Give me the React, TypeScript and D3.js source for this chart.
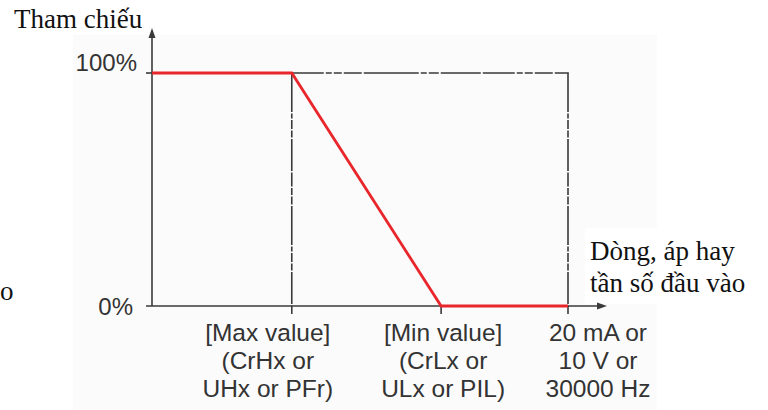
import React from "react";
import * as d3 from "d3";

// ---- data ----
const inputPct = [0, 33.6, 69.5, 100]; // input position, % of full scale
const referencePct = [100, 100, 0, 0]; // reference output, %
const yTickValues = [100, 0];
const yTickLabels = ["100%", "0%"];
const xTickValues = [33.6, 69.5, 100];
const xTickLabels = [
  ["[Max value]", "(CrHx or", "UHx or PFr)"],
  ["[Min value]", "(CrLx or", "ULx or PIL)"],
  ["20 mA or", "10 V or", "30000 Hz"],
];
const yAxisTitle = "Tham chiếu";
const xAxisTitle = ["Dòng, áp hay", "tần số đầu vào"];
const leftFragment = "o";

const W = 768;
const H = 410;

export default function App() {
  const x = d3.scaleLinear().domain([0, 100]).range([152, 568]);
  const y = d3.scaleLinear().domain([0, 100]).range([306, 73]);
  const axisColor = "#3a3a3a";
  const red = "#e8262b";
  const sans = "'Liberation Sans', Arial, sans-serif";
  const serif = "'Liberation Serif', 'Times New Roman', serif";
  const line = d3
    .line<number>()
    .x((_, i) => x(inputPct[i]))
    .y((d) => y(d));
  const vDash = "39 1.5 5 1.5 9 1.5 7 1.5 32 1.5 14 1.5 7 1.5 8 1.5";
  const hDash = "32 2 6 2 8 2 18 2 55 2 6 2 10 2 40 2";
  const labelOffsets = [-24, 2, 30];
  const rowY = [341, 369, 397];
  const x0 = x(0);
  const y0 = y(0);
  const y100 = y(100);
  const xMax = x(inputPct[1]);
  const xEnd = x(100);

  return (
    <svg
      width={W}
      height={H}
      style={{ position: "absolute", left: 0, top: 0, background: "#fff" }}
    >
      <rect x={73} y={35} width={584} height={H - 35} fill="#fbfbfb" />
      <rect x={585} y={228} width={183} height={76} fill="#fff" />

      {/* dashed guides */}
      <line x1={xMax} x2={xMax} y1={y100} y2={y0} stroke={axisColor} strokeWidth={1.6} strokeDasharray={vDash} />
      <line x1={xEnd} x2={xEnd} y1={y100} y2={y0} stroke={axisColor} strokeWidth={1.6} strokeDasharray={vDash} />
      <line x1={xMax} x2={xEnd + 0.8} y1={y100} y2={y100} stroke={axisColor} strokeWidth={1.6} strokeDasharray={hDash} />

      {/* axes */}
      <line x1={x0} x2={x0} y1={y0} y2={36} stroke={axisColor} strokeWidth={1.6} />
      <path d={`M${x0},28 L${x0 - 3.5},38 L${x0 + 3.5},38 Z`} fill={axisColor} />
      <line x1={146} x2={598} y1={y0} y2={y0} stroke={axisColor} strokeWidth={1.6} />
      <path d={`M607,${y0} L597,${y0 - 3.5} L597,${y0 + 3.5} Z`} fill={axisColor} />
      <line x1={146} x2={x0} y1={y100} y2={y100} stroke={axisColor} strokeWidth={1.6} />
      {xTickValues.map((v, i) => (
        <line key={i} x1={x(v)} x2={x(v)} y1={y0} y2={y0 + 8} stroke={axisColor} strokeWidth={1.6} />
      ))}

      {/* reference curve */}
      <path d={line(referencePct) || ""} fill="none" stroke={red} strokeWidth={2.8} strokeLinejoin="miter" />

      {/* y tick labels */}
      {yTickValues.map((v, i) => (
        <text
          key={i}
          x={v === 100 ? 137 : 133}
          y={v === 100 ? y(v) - 2 : y(v) + 9}
          textAnchor="end"
          fontFamily={sans}
          fontSize={24}
          fill="#333"
        >
          {yTickLabels[i]}
        </text>
      ))}

      {/* x tick labels */}
      {xTickValues.map((v, i) => (
        <g key={i}>
          {xTickLabels[i].map((t, j) => (
            <text
              key={j}
              x={x(v) + labelOffsets[i]}
              y={rowY[j]}
              textAnchor="middle"
              fontFamily={sans}
              fontSize={24.5}
              fill="#333"
            >
              {t}
            </text>
          ))}
        </g>
      ))}

      {/* titles */}
      <text x={14} y={28} fontFamily={serif} fontSize={27} fill="#111">
        {yAxisTitle}
      </text>
      {xAxisTitle.map((t, i) => (
        <text key={i} x={590} y={260 + i * 32} fontFamily={serif} fontSize={27} fill="#111">
          {t}
        </text>
      ))}
      <text x={0} y={300} fontFamily={serif} fontSize={27} fill="#111">
        {leftFragment}
      </text>
    </svg>
  );
}
